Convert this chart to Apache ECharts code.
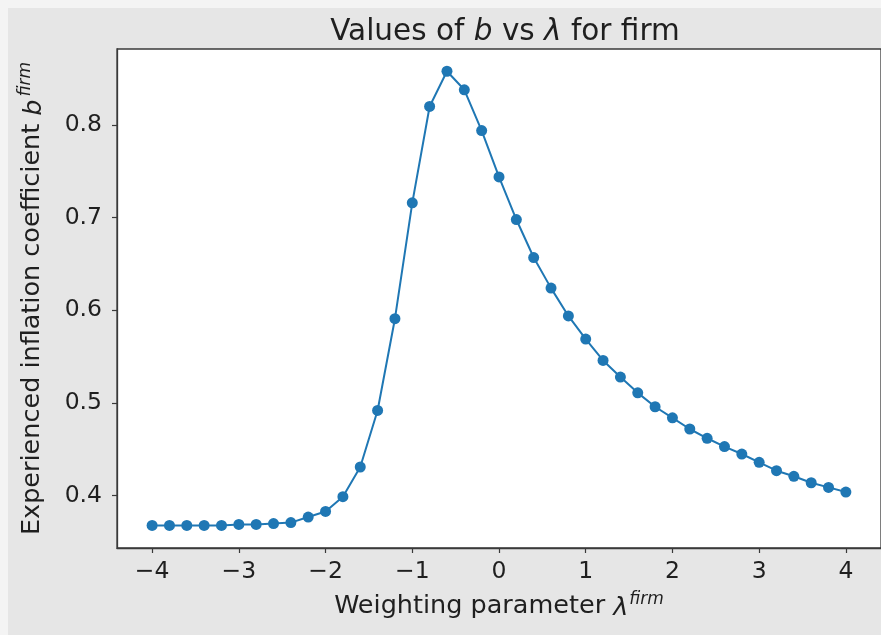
<!DOCTYPE html>
<html>
<head>
<meta charset="utf-8">
<script src="https://cdn.jsdelivr.net/npm/echarts@6/dist/echarts.min.js"></script>
<style>
  html, body { margin: 0; padding: 0; background: #f4f4f4; }
  #chart { position: absolute; left: 8px; top: 8px; width: 873px; height: 627px; background: #e6e6e6; }
</style>
</head>
<body>
<div id="chart"></div>
<script>
// Weighting parameter lambda (x) and the resulting coefficient b (y)
const lambdaValues = [-4.0, -3.8, -3.6, -3.4, -3.2, -3.0, -2.8, -2.6, -2.4, -2.2,
  -2.0, -1.8, -1.6, -1.4, -1.2, -1.0, -0.8, -0.6, -0.4, -0.2,
  0.0, 0.2, 0.4, 0.6, 0.8, 1.0, 1.2, 1.4, 1.6, 1.8,
  2.0, 2.2, 2.4, 2.6, 2.8, 3.0, 3.2, 3.4, 3.6, 3.8, 4.0];
const bValues = [0.368, 0.368, 0.368, 0.368, 0.368, 0.369, 0.369, 0.370, 0.371, 0.377,
  0.383, 0.399, 0.431, 0.492, 0.591, 0.716, 0.820, 0.858, 0.838, 0.794,
  0.744, 0.698, 0.657, 0.624, 0.594, 0.569, 0.546, 0.528, 0.511, 0.496,
  0.484, 0.472, 0.462, 0.453, 0.445, 0.436, 0.427, 0.421, 0.414, 0.409, 0.404];
const xTicks = [-4, -3, -2, -1, 0, 1, 2, 3, 4];
const yTicks = [0.4, 0.5, 0.6, 0.7, 0.8];

const FONT = 'DejaVu Sans';
const INK = '#1f1f1f';
const SPINE = '#3a3a3a';
const minus = v => String(v).replace('-', '\u2212');

const chart = echarts.init(document.getElementById('chart'));
chart.setOption({
  animation: false,
  title: {
    text: 'Values of {i|b} vs {i|\u03bb} for firm',
    left: 492,
    top: 4,
    textAlign: 'center',
    textStyle: {
      fontFamily: FONT, fontSize: 29.5, fontWeight: 'normal', color: INK,
      rich: { i: { fontFamily: FONT, fontSize: 29.5, fontStyle: 'italic', color: INK } }
    }
  },
  grid: {
    left: 109, top: 41, right: -3, bottom: 87,
    show: true, backgroundColor: '#ffffff', borderColor: SPINE, borderWidth: 1.3
  },
  xAxis: {
    type: 'value',
    min: -4.405, max: 4.405,
    name: 'Weighting parameter {i|\u03bb}{sup|firm}',
    nameLocation: 'middle',
    nameGap: 43,
    nameTextStyle: {
      fontFamily: FONT, fontSize: 25.5, color: INK,
      rich: {
        i: { fontFamily: FONT, fontSize: 25.5, fontStyle: 'italic', color: INK, verticalAlign: 'bottom' },
        sup: { fontFamily: FONT, fontSize: 17, fontStyle: 'italic', color: INK, padding: [0, 0, 13, 1], verticalAlign: 'bottom' }
      }
    },
    axisLine: { show: true, onZero: false, lineStyle: { color: SPINE, width: 1.3 } },
    axisTick: { show: true, length: 5, customValues: xTicks, lineStyle: { color: SPINE, width: 1.2 } },
    axisLabel: {
      customValues: xTicks, margin: 12,
      fontFamily: FONT, fontSize: 23.5, color: INK, formatter: v => minus(v)
    },
    splitLine: { show: false }
  },
  yAxis: {
    type: 'value',
    min: 0.3436, max: 0.882,
    name: 'Experienced inflation coefficient {i|b}{sup|firm}',
    nameLocation: 'middle',
    nameGap: 70,
    nameTextStyle: {
      fontFamily: FONT, fontSize: 25.5, color: INK,
      rich: {
        i: { fontFamily: FONT, fontSize: 25.5, fontStyle: 'italic', color: INK, verticalAlign: 'bottom' },
        sup: { fontFamily: FONT, fontSize: 17, fontStyle: 'italic', color: INK, padding: [0, 0, 13, 3], verticalAlign: 'bottom' }
      }
    },
    axisLine: { show: true, onZero: false, lineStyle: { color: SPINE, width: 1.3 } },
    axisTick: { show: true, length: 5, customValues: yTicks, lineStyle: { color: SPINE, width: 1.2 } },
    axisLabel: {
      customValues: yTicks, margin: 15,
      fontFamily: FONT, fontSize: 23.5, color: INK, formatter: v => Number(v).toFixed(1)
    },
    splitLine: { show: false }
  },
  series: [{
    type: 'line',
    data: lambdaValues.map((x, i) => [x, bValues[i]]),
    symbol: 'circle',
    symbolSize: 11,
    showSymbol: true,
    lineStyle: { color: '#1f77b4', width: 2 },
    itemStyle: { color: '#1f77b4' }
  }]
});
</script>
</body>
</html>
